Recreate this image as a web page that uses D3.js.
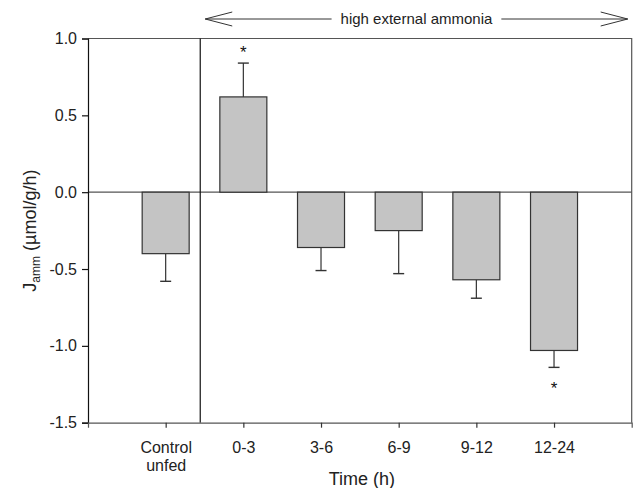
<!DOCTYPE html>
<html>
<head>
<meta charset="utf-8">
<script src="https://cdn.jsdelivr.net/npm/d3@7"></script>
<style>
  html, body { margin: 0; padding: 0; background: #fff; }
  svg { display: block; font-family: "Liberation Sans", Arial, Helvetica, sans-serif; }
</style>
</head>
<body>
<svg id="chart" width="633" height="488"></svg>
<script>
// ---- data ----
const categories = ["Control|unfed", "0-3", "3-6", "6-9", "9-12", "12-24"];
const means      = [-0.40, 0.62, -0.36, -0.25, -0.57, -1.03];
const errors     = [0.18, 0.22, 0.15, 0.28, 0.12, 0.11];
const significant = [false, true, false, false, false, true];
const yTicks     = [-1.5, -1.0, -0.5, 0.0, 0.5, 1.0];
const yTickLabels = ["-1.5", "-1.0", "-0.5", "0.0", "0.5", "1.0"];
const xTitle = "Time (h)";
const annotation = "high external ammonia";

// ---- layout ----
const svg = d3.select("#chart");
const pL = 88, pR = 631.7, pT = 38.5, pB = 422.7;

const x = d3.scalePoint().domain(categories).range([pL, pR]).padding(1);
const y = d3.scaleLinear().domain([-1.5, 1.0]).range([pB, pT]);
const step = x.step();
const barW = 47;

// frame (top and right)
svg.append("path")
  .attr("d", `M${pL},${pT}H${pR}V${pB}`)
  .attr("fill", "none").attr("stroke", "#555").attr("stroke-width", 1.2);

// zero line
svg.append("line")
  .attr("x1", pL).attr("x2", pR)
  .attr("y1", y(0)).attr("y2", y(0))
  .attr("stroke", "#555").attr("stroke-width", 1.2);

// divider between control and treatment
const divX = x(categories[0]) + step * 0.445;
svg.append("line")
  .attr("x1", divX).attr("x2", divX)
  .attr("y1", pT).attr("y2", pB)
  .attr("stroke", "#111").attr("stroke-width", 1.2);

// error bars (one-sided, away from zero)
const eb = svg.append("g");
categories.forEach((c, i) => {
  const cx = x(c);
  const end = means[i] + Math.sign(means[i]) * errors[i];
  eb.append("line")
    .attr("x1", cx).attr("x2", cx)
    .attr("y1", y(means[i])).attr("y2", y(end))
    .attr("stroke", "#333").attr("stroke-width", 1.2);
  eb.append("line")
    .attr("x1", cx - 5.5).attr("x2", cx + 5.5)
    .attr("y1", y(end)).attr("y2", y(end))
    .attr("stroke", "#333").attr("stroke-width", 1.4);
  if (significant[i]) {
    const sy = means[i] > 0 ? y(end) - 5 : y(end) + 27;
    svg.append("text")
      .attr("x", cx).attr("y", sy)
      .attr("text-anchor", "middle")
      .attr("font-size", 17).attr("fill", "#111")
      .text("*");
  }
});

// bars
svg.append("g").selectAll("rect")
  .data(categories)
  .join("rect")
  .attr("x", d => x(d) - barW / 2)
  .attr("width", barW)
  .attr("y", (d, i) => y(Math.max(0, means[i])))
  .attr("height", (d, i) => Math.abs(y(means[i]) - y(0)))
  .attr("fill", "#c4c4c4")
  .attr("stroke", "#333")
  .attr("stroke-width", 1.2);

// y axis
const yAxis = d3.axisLeft(y).tickValues(yTicks)
  .tickFormat((d, i) => yTickLabels[i]).tickSizeOuter(0).tickSize(6).tickPadding(5);
const gy = svg.append("g").attr("transform", `translate(${pL},0)`).call(yAxis);
gy.select(".domain").attr("stroke", "#111").attr("stroke-width", 1.2);
gy.selectAll(".tick line").attr("stroke", "#111").attr("stroke-width", 1.2);
gy.selectAll(".tick text").attr("font-size", 16).attr("fill", "#222")
  .attr("font-family", "Liberation Sans, Arial, sans-serif");

// x axis
const xAxis = d3.axisBottom(x).tickSizeOuter(0).tickSize(5).tickFormat("");
const gx = svg.append("g").attr("transform", `translate(0,${pB})`).call(xAxis);
gx.select(".domain").attr("stroke", "#555").attr("stroke-width", 1.2);
gx.selectAll(".tick line").attr("stroke", "#333").attr("stroke-width", 1.2);
gx.selectAll(".tick").each(function(d) {
  const parts = d.split("|");
  const t = d3.select(this).append("text")
    .attr("text-anchor", "middle")
    .attr("font-size", 16).attr("fill", "#222")
    .attr("font-family", "Liberation Sans, Arial, sans-serif");
  parts.forEach((p, k) => {
    t.append("tspan").attr("x", 0).attr("y", 30 + k * 18).text(p);
  });
});

// x title
svg.append("text")
  .attr("x", (pL + pR) / 2 + 2).attr("y", 485)
  .attr("text-anchor", "middle")
  .attr("font-size", 18).attr("fill", "#222")
  .text(xTitle);

// y title
const yt = svg.append("text")
  .attr("transform", `translate(36,${(pT + pB) / 2}) rotate(-90)`)
  .attr("text-anchor", "middle")
  .attr("font-size", 18).attr("fill", "#222");
yt.append("tspan").text("J");
yt.append("tspan").attr("font-size", 12).attr("dy", 4).text("amm");
yt.append("tspan").attr("dy", -4).text(" (µmol/g/h)");

// annotation arrow
const ay = 19;
const ax1 = divX + 5, ax2 = pR - 4;
const amid = (ax1 + ax2) / 2;
const ann = svg.append("text")
  .attr("x", amid).attr("y", ay + 5)
  .attr("text-anchor", "middle")
  .attr("font-size", 15).attr("fill", "#222")
  .text(annotation);
const tw = ann.node().getComputedTextLength();
const gap = 9;
const ag = svg.append("g").attr("stroke", "#333").attr("stroke-width", 1).attr("fill", "none");
ag.append("line").attr("x1", ax1).attr("x2", amid - tw / 2 - gap).attr("y1", ay).attr("y2", ay);
ag.append("line").attr("x1", amid + tw / 2 + gap).attr("x2", ax2).attr("y1", ay).attr("y2", ay);
ag.append("path").attr("d", `M${ax1 + 27},${ay - 7}L${ax1},${ay}L${ax1 + 27},${ay + 7}`);
ag.append("path").attr("d", `M${ax2 - 27},${ay - 7}L${ax2},${ay}L${ax2 - 27},${ay + 7}`);
</script>
</body>
</html>
